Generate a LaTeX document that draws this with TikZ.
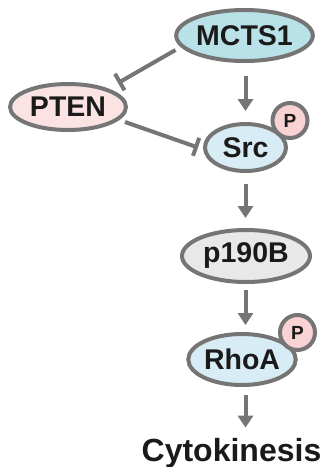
\documentclass[tikz,border=0pt]{standalone}
\usepackage{fontspec}
\setmainfont{Liberation Sans}
\usetikzlibrary{shapes.geometric,arrows.meta,calc}
\definecolor{edgegray}{HTML}{757575}
\definecolor{txt}{HTML}{1A1A1A}
\definecolor{mctsfill}{HTML}{B9E1E8}
\definecolor{ptenfill}{HTML}{FBE3E4}
\definecolor{srcfill}{HTML}{D8ECF6}
\definecolor{grayfill}{HTML}{E8E8E8}
\definecolor{pfill}{HTML}{F9D2D3}
\begin{document}
\begin{tikzpicture}[x=1pt,y=-1pt,
  prot/.style={ellipse, draw=edgegray, line width=4pt, inner sep=0pt, text=txt,
    font=\fontsize{28.5}{30}\selectfont\bfseries},
  phos/.style={circle, draw=edgegray, line width=4pt, inner sep=0pt, fill=pfill,
    minimum size=35pt, text=txt, font=\fontsize{19}{20}\selectfont\bfseries},
  act/.style={draw=edgegray, line width=4pt, -{Triangle[length=12pt,width=15pt]}},
  inh/.style={draw=edgegray, line width=4pt, -{Bar[width=19pt]}},
  lbl/.style={text=txt, font=\fontsize{32}{34}\selectfont\bfseries, inner sep=0pt}]
\useasboundingbox (0,0) rectangle (322,467);
\node[prot, fill=mctsfill, minimum width=123pt, minimum height=51pt] (MCTS1) at (244.5,35.5) {MCTS1};
\node[prot, fill=ptenfill, minimum width=116pt, minimum height=46pt] (PTEN) at (68,107) {PTEN};
\node[prot, fill=srcfill, minimum width=81pt, minimum height=47pt] (Src) at (245.5,147.5) {Src};
\node[phos] (P1) at (290,120.5) {P};
\node[prot, fill=grayfill, minimum width=128pt, minimum height=52pt] (p190B) at (246,256) {p190B};
\node[prot, fill=srcfill, minimum width=96pt, minimum height=51pt] (RhoA) at (242,359.5) {RhoA};
\node[phos] (P2) at (297.5,332.5) {P};
\node[lbl, anchor=base] (Cyto) at (231.5,461) {Cytokinesis};
\coordinate (xa) at (245.5,0);
\draw[act, shorten <=13pt, shorten >=11pt] (xa |- MCTS1.south) -- (xa |- Src.north);
\draw[act, shorten <=11pt, shorten >=10pt] (xa |- Src.south) -- (xa |- p190B.north);
\draw[act, shorten <=6pt, shorten >=7pt] (xa |- p190B.south) -- (xa |- RhoA.north);
\draw[act, shorten <=8pt, shorten >=10pt] (xa |- RhoA.south) -- (xa |- Cyto.north);
\draw[inh] ($(MCTS1.center)+(-69,14.5)$) -- ($(PTEN.center)+(50,-24)$);
\draw[inh] ($(PTEN.center)+(57,15)$) -- ($(Src.center)+(-47.5,0)$);
\end{tikzpicture}
\end{document}
